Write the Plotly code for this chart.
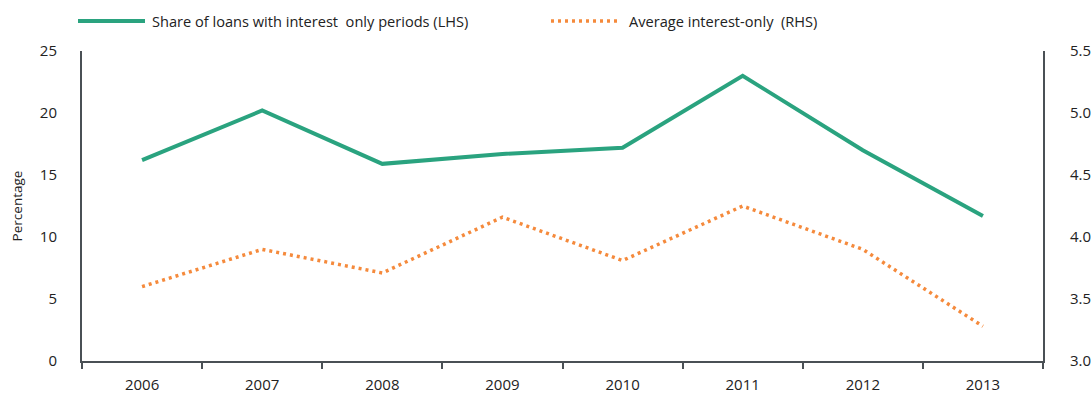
import plotly.graph_objects as go

years = ["2006", "2007", "2008", "2009", "2010", "2011", "2012", "2013"]
share_io = [16.2, 20.2, 15.9, 16.7, 17.2, 23.0, 17.0, 11.7]
avg_io = [3.60, 3.90, 3.71, 4.16, 3.81, 4.25, 3.90, 3.28]

green = "#2aa37f"
orange = "#f58a3c"
axis_col = "#4a5055"
FONT = "Open Sans"

fig = go.Figure()
fig.add_trace(go.Scatter(x=years, y=share_io, mode="lines", name="Share of loans with interest  only periods (LHS)",
                         line=dict(color=green, width=4), yaxis="y"))
fig.add_trace(go.Scatter(x=years, y=avg_io, mode="lines", name="Average interest-only  (RHS)",
                         line=dict(color=orange, width=3.5, dash="3px,4px"), yaxis="y2"))

L, R, T, B = 82, 49, 51, 40
W, H = 1092, 401
pw = W - L - R
ph = H - T - B

def px_x(p):
    return (p - L) / pw

def px_y(p):
    return (H - B - p) / ph

shapes = [
    dict(type="line", xref="paper", yref="paper", x0=px_x(78), x1=px_x(145), y0=px_y(21), y1=px_y(21),
         line=dict(color=green, width=4)),
    dict(type="line", xref="paper", yref="paper", x0=px_x(551), x1=px_x(620), y0=px_y(21), y1=px_y(21),
         line=dict(color=orange, width=3.5, dash="3px,4px")),
]
annotations = [
    dict(xref="paper", yref="paper", x=px_x(150), y=px_y(21), xanchor="left", yanchor="middle",
         text="Share of loans with interest  only periods (LHS)", showarrow=False,
         font=dict(family=FONT, size=14.6, color="#222")),
    dict(xref="paper", yref="paper", x=px_x(627), y=px_y(21), xanchor="left", yanchor="middle",
         text="Average interest-only  (RHS)", showarrow=False,
         font=dict(family=FONT, size=14.6, color="#222")),
]

fig.update_layout(
    width=W, height=H,
    margin=dict(l=L, r=R, t=T, b=B, autoexpand=False),
    paper_bgcolor="white", plot_bgcolor="white",
    showlegend=False,
    font=dict(family=FONT, size=15, color="#222"),
    shapes=shapes, annotations=annotations,
    xaxis=dict(type="category", range=[-0.5, 7.5], showgrid=False, showline=True, linecolor=axis_col, linewidth=2,
               ticks="outside", tickson="boundaries", ticklen=6, tickwidth=1.5, tickcolor=axis_col,
               ticklabelstandoff=9, tickfont=dict(size=15)),
    yaxis=dict(range=[0, 25], dtick=5, showgrid=False, zeroline=False, showline=True, linecolor=axis_col,
               linewidth=2, ticks="", ticklabelstandoff=20, tickfont=dict(size=15),
               title=dict(text="Percentage", font=dict(size=13.5), standoff=14)),
    yaxis2=dict(range=[3.0, 5.5], dtick=0.5, tickformat=".1f", overlaying="y", side="right", showgrid=False,
                zeroline=False, showline=True, linecolor=axis_col, linewidth=2, ticks="",
                ticklabelstandoff=22, tickfont=dict(size=15)),
)

fig.write_html("out.html")
